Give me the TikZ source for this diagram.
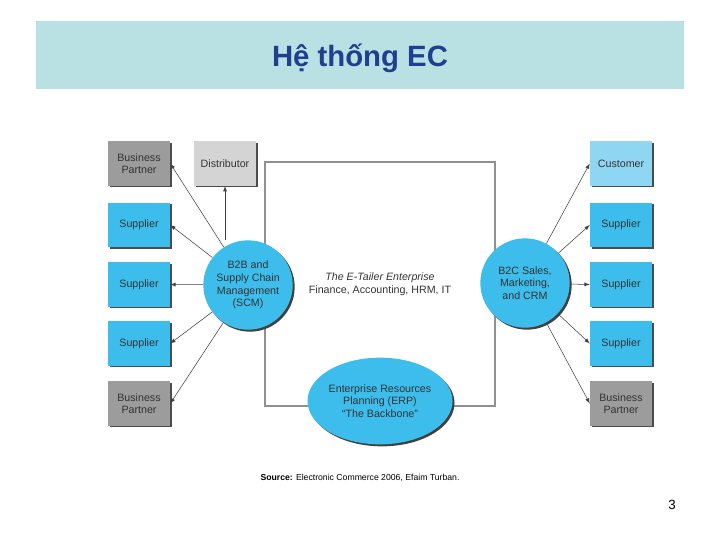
\documentclass[tikz,border=0pt]{standalone}
\usepackage{fontspec}
\setmainfont{Liberation Sans}
\usetikzlibrary{shapes.geometric,shadows}
\definecolor{banner}{HTML}{B9E0E3}
\definecolor{titlec}{HTML}{1F3F8F}
\definecolor{bblue}{HTML}{3CBDEB}
\definecolor{lblue}{HTML}{8FD6F3}
\definecolor{dgray}{HTML}{9C9C9C}
\definecolor{lgray}{HTML}{D4D4D4}
\definecolor{lnc}{HTML}{909090}
\begin{document}
\begin{tikzpicture}[x=0.75pt,y=-0.75pt,
  box/.style={minimum width=46.5pt,minimum height=33.5pt,inner sep=1pt,align=center,font=\fontsize{8}{9}\selectfont,text=black!80,drop shadow={shadow xshift=1.2pt,shadow yshift=-1.2pt,fill=black!70,opacity=1}},
  circ/.style={circle,fill=bblue,minimum size=67pt,inner sep=0pt,align=center,font=\fontsize{8}{9.5}\selectfont,text=black!80,drop shadow={shadow xshift=1.5pt,shadow yshift=-1.5pt,fill=black!75,opacity=1}},
  arr/.style={-latex,thin,black!75}]
\useasboundingbox (0,0) rectangle (720,540);
\fill[banner] (36,21) rectangle (684,89);
\node[font=\bfseries\fontsize{22}{24}\selectfont,text=titlec] (title) at (360,58) {Hệ thống EC};
\draw[lnc,thick] (265,162) rectangle (495,406);
\node[align=center,font=\fontsize{8}{9.5}\selectfont,text=black!80] (mid) at (380,284) {\itshape The E-Tailer Enterprise\\Finance, Accounting, HRM, IT};
\node[box,fill=dgray] (l1) at (139,163.5) {Business\\Partner};
\node[box,fill=bblue] (l2) at (139,225) {Supplier};
\node[box,fill=bblue] (l3) at (139,284.5) {Supplier};
\node[box,fill=bblue] (l4) at (139,343.5) {Supplier};
\node[box,fill=dgray] (l5) at (139,403.5) {Business\\Partner};
\node[box,fill=lgray] (dist) at (225,163.5) {Distributor};
\node[box,fill=lblue] (r1) at (621,163.5) {Customer};
\node[box,fill=bblue] (r2) at (621,225) {Supplier};
\node[box,fill=bblue] (r3) at (621,284.5) {Supplier};
\node[box,fill=bblue] (r4) at (621,343.5) {Supplier};
\node[box,fill=dgray] (r5) at (621,403.5) {Business\\Partner};
\node[circ] (b2b) at (248,285) {B2B and\\Supply Chain\\Management\\(SCM)};
\node[circ] (b2c) at (525,283) {B2C Sales,\\Marketing,\\and CRM};
\node[ellipse,fill=bblue,minimum width=97pt,minimum height=65pt,inner sep=0pt,align=center,font=\fontsize{8}{9.5}\selectfont,text=black!80,drop shadow={shadow xshift=1.5pt,shadow yshift=-1.5pt,fill=black!75,opacity=1}] (erp) at (380,401) {Enterprise Resources\\Planning (ERP)\\“The Backbone”};
\foreach \n in {l1,l2,l3,l4,l5} \draw[arr] (b2b) -- (\n.east);
\foreach \n in {r1,r2,r3,r4,r5} \draw[arr] (b2c) -- (\n.west);
\draw[arr] (b2b.north -| dist.south) -- (dist.south);
\node[font=\fontsize{6.5}{8}\selectfont] (src) at (360,478) {\textbf{Source:} Electronic Commerce 2006, Efaim Turban.};
\node[font=\fontsize{10}{12}\selectfont] (pg) at (672,505) {3};
\end{tikzpicture}
\end{document}
